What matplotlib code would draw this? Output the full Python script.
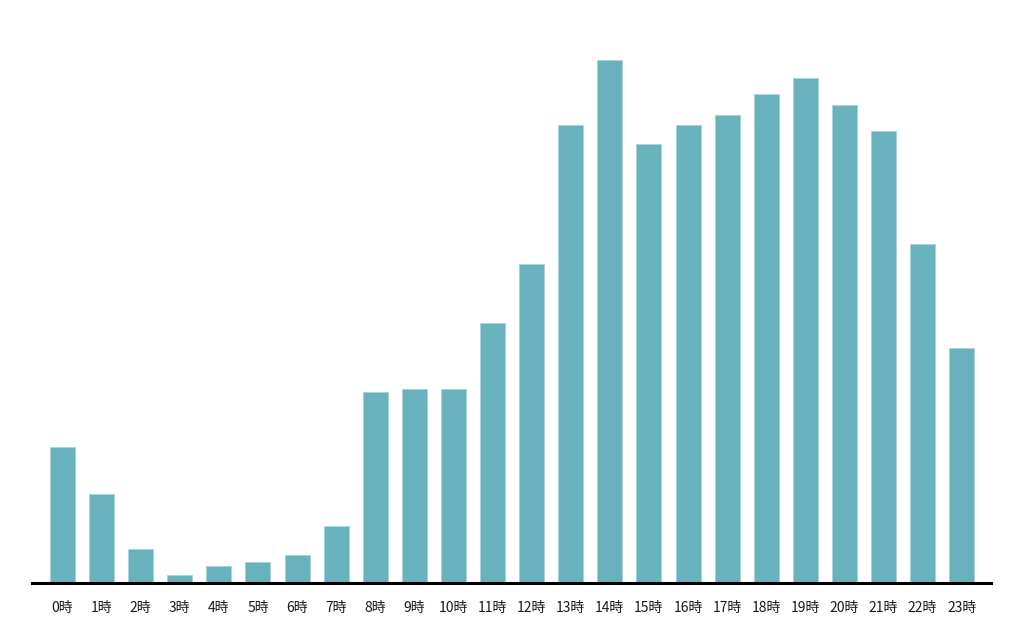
import matplotlib
matplotlib.use('Agg')
import matplotlib.pyplot as plt

plt.rcParams['font.family'] = ['Noto Sans CJK JP', 'DejaVu Sans']

# 時間帯ごとの値
hours = [f'{h}時' for h in range(24)]
values = [136, 89, 34, 8, 17, 21, 28, 57, 191, 194, 194, 260,
          319, 458, 523, 439, 458, 468, 489, 505, 478, 452, 339, 235]

fig = plt.figure(figsize=(10.24, 6.4), dpi=100)
ax = fig.add_axes([32 / 1024, 1 - 583 / 640, (991 - 32) / 1024, 553 / 640])

x = list(range(len(hours)))
ax.bar(x, values, width=0.64, color='#68b2bd', edgecolor='#a9d3d9', linewidth=0.6)

ax.set_xlim(-0.78, 23.75)
ax.set_ylim(0, 553)
ax.set_xticks(x)
ax.set_xticklabels(hours, fontsize=10, color='#1a1a1a')
ax.tick_params(axis='x', length=0, pad=13)
ax.set_yticks([])

for side in ['top', 'right', 'left']:
    ax.spines[side].set_visible(False)
ax.spines['bottom'].set_linewidth(2.2)
ax.spines['bottom'].set_color('black')

fig.savefig('out.png', dpi=100)
